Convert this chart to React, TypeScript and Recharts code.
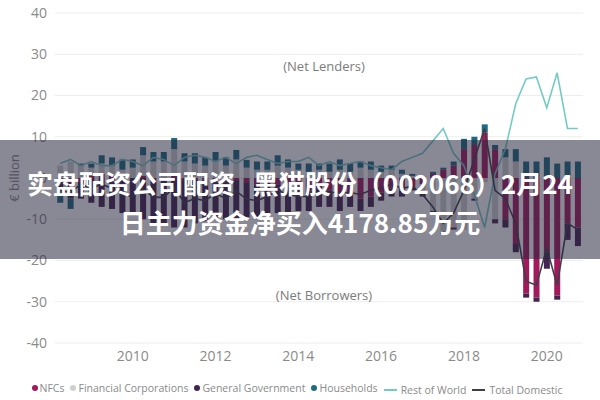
import React from 'react';
import { ComposedChart, Bar, Line, XAxis, YAxis, CartesianGrid } from 'recharts';

const quarters = [
  '2008Q2', '2008Q3', '2008Q4',
  '2009Q1', '2009Q2', '2009Q3', '2009Q4',
  '2010Q1', '2010Q2', '2010Q3', '2010Q4',
  '2011Q1', '2011Q2', '2011Q3', '2011Q4',
  '2012Q1', '2012Q2', '2012Q3', '2012Q4',
  '2013Q1', '2013Q2', '2013Q3', '2013Q4',
  '2014Q1', '2014Q2', '2014Q3', '2014Q4',
  '2015Q1', '2015Q2', '2015Q3', '2015Q4',
  '2016Q1', '2016Q2', '2016Q3', '2016Q4',
  '2017Q1', '2017Q2', '2017Q3', '2017Q4',
  '2018Q1', '2018Q2', '2018Q3', '2018Q4',
  '2019Q1', '2019Q2', '2019Q3', '2019Q4',
  '2020Q1', '2020Q2', '2020Q3', '2020Q4',
];

const nfcs = [
  -1, -2, -1,
  0.5, 1, 0.5, -0.5,
  0, 0.5, -0.5, 0,
  0.5, -0.5, 0, -0.5,
  0, -1, -0.5, -1,
  -1.5, -1, -1.5, -2,
  -2, -3, -2.5, -3,
  -4.5, -4, -5, -4.5,
  -3.5, -2.5, -3, -2,
  -1.5, 1, 2, 3,
  7, 8, 11, 7,
  -10, -16, -28, -29,
  -18, -28.5, -11, -12,
];

const financialCorps = [
  3, 4, 3,
  2, 2.5, 2.5, 2,
  2.5, 5, 4, 4,
  6.5, 4, 3.5, 3,
  4, 3, 4.5, 2.5,
  2, 2, 3, 2.5,
  2, 1.5, 2, 1.5,
  2, 1.5, 2.5, 2,
  1.5, 2, 1, 0.5,
  -2, -8, -13, -12,
  -12.5, -5, -1, -10,
  5, 4, 0, 0,
  0.5, 0, 0.5, 0,
];

const generalGovernment = [
  -2, -3, -4,
  -6, -7, -7.5, -8,
  -9, -10, -10.5, -11,
  -12, -11.5, -11, -10,
  -10, -9, -9.5, -8.5,
  -8, -7.5, -7, -6.5,
  -6, -5, -4.5, -4,
  -3.5, -3, -3, -2.5,
  -2, -2, -1.5, -1,
  -1, -0.5, -0.5, -0.5,
  0, -0.5, 0, -1,
  -2, -2, -1, -1,
  -4, -1, -4, -4.5,
];

const households = [
  -3, -2.5, 0.5,
  1, 2, 2, 2.5,
  2, 2, 2.3, 2.3,
  2.7, 2, 2.5, 2,
  2.3, 2, 2.3, 1.9,
  2, 2, 2.5, 2,
  1.5, 2, 1.5, 2,
  2.5, 2, 1.5, 2,
  1.5, 1, 1, 0.5,
  0.5, 0.5, 0.5, 1,
  2.5, 2, 2, 1,
  2, 3, 4, 4,
  4.5, 3.5, 3.5, 4,
];

const restOfWorld = [
  3.5, 4.5, 3,
  4, 3, 3, 4.5,
  4, 3, 5, 4.5,
  3, 5, 5.5, 5,
  4, 5, 3.5, 5,
  5.5, 4.5, 3.5, 4,
  4, 5, 3, 4,
  3, 3.5, 4, 3,
  2.5, 2, 4, 5,
  6, 9, 12, 6,
  3, -4, -12, 1,
  7, 18, 24, 24.5,
  17, 25.5, 12, 12,
];

const totalDomestic = [
  -3, -3.5, -1.5,
  -2.5, -1.5, -2.5, -4,
  -4.5, -2.5, -4.7, -4.7,
  -2.3, -6, -5, -5.5,
  -3.7, -5, -3.2, -5.1,
  -5.5, -4.5, -3, -4,
  -4.5, -4.5, -3.5, -3.5,
  -3.5, -3.5, -4, -3,
  -2.5, -1.5, -2.5, -2,
  -4, -7, -11, -8.5,
  -3, 4.5, 12, -3,
  -5, -11, -25, -26,
  -17, -26, -11, -12.5,
];

const yTicks = [-40, -30, -20, -10, 0, 10, 20, 30, 40];
const xTicks = ['2010Q1', '2012Q1', '2014Q1', '2016Q1', '2018Q1', '2020Q1'];

const data = quarters.map((q, i) => ({
  q,
  nfcs: nfcs[i],
  fin: financialCorps[i],
  gov: generalGovernment[i],
  hh: households[i],
  row: restOfWorld[i],
  total: totalDomestic[i],
}));

const C_NFC = '#a3195b';
const C_FIN = '#cfcfcf';
const C_GOV = '#43234f';
const C_HH = '#1d6a82';
const C_ROW = '#74cbc6';
const C_TOT = '#3f3f4c';

const legendItems = [
  { label: 'NFCs', color: C_NFC, kind: 'dot' },
  { label: 'Financial Corporations', color: C_FIN, kind: 'dot' },
  { label: 'General Government', color: C_GOV, kind: 'dot' },
  { label: 'Households', color: C_HH, kind: 'dot' },
  { label: 'Rest of World', color: C_ROW, kind: 'line' },
  { label: 'Total Domestic', color: C_TOT, kind: 'line' },
];

export default function App() {
  const font = '"Open Sans", "Noto Sans", sans-serif';
  return (
    <div style={{ position: 'absolute', left: 0, top: 0, width: 600, height: 400, background: '#fff', overflow: 'hidden', fontFamily: font }}>
      <ComposedChart
        width={600}
        height={370}
        data={data}
        stackOffset="sign"
        barCategoryGap="22%"
        margin={{ top: 13, right: 17, bottom: 0, left: 0 }}
      >
        <CartesianGrid vertical={false} stroke="#ededed" />
        <XAxis
          dataKey="q"
          ticks={xTicks}
          tickFormatter={(v: string) => v.slice(0, 4)}
          axisLine={false}
          tickLine={false}
          height={27}
          tick={{ fill: '#8a8a8a', fontSize: 14, fontFamily: font }}
          interval={0}
        />
        <YAxis
          domain={[-40, 40]}
          ticks={yTicks}
          axisLine={false}
          tickLine={false}
          width={55}
          tick={{ fill: '#8a8a8a', fontSize: 14, fontFamily: font }}
          label={{ value: '€ billion', angle: -90, position: 'insideLeft', offset: 14, style: { fill: '#8a8a8a', fontSize: 13, fontFamily: font, textAnchor: 'middle' } }}
        />
        <Bar dataKey="nfcs" stackId="s" fill={C_NFC} isAnimationActive={false} />
        <Bar dataKey="fin" stackId="s" fill={C_FIN} isAnimationActive={false} />
        <Bar dataKey="gov" stackId="s" fill={C_GOV} isAnimationActive={false} />
        <Bar dataKey="hh" stackId="s" fill={C_HH} isAnimationActive={false} />
        <Line dataKey="row" type="linear" stroke={C_ROW} strokeWidth={1.6} dot={false} isAnimationActive={false} />
        <Line dataKey="total" type="linear" stroke={C_TOT} strokeWidth={1.6} dot={false} isAnimationActive={false} />
      </ComposedChart>

      <div style={{ position: 'absolute', left: 224, width: 200, top: 57, textAlign: 'center', fontSize: 13, color: '#7c7c7c' }}>(Net Lenders)</div>
      <div style={{ position: 'absolute', left: 224, width: 200, top: 286, textAlign: 'center', fontSize: 13, color: '#7c7c7c' }}>(Net Borrowers)</div>

      <div style={{ position: 'absolute', left: 0, width: 600, top: 380, textAlign: 'center', fontSize: 10.5, color: '#8a8a8a', whiteSpace: 'nowrap' }}>
        {legendItems.map((it) => (
          <span key={it.label} style={{ marginRight: 6, display: 'inline-flex', alignItems: 'center' }}>
            {it.kind === 'dot' ? (
              <span style={{ display: 'inline-block', width: 6, height: 6, borderRadius: 3, background: it.color, marginRight: 2 }} />
            ) : (
              <span style={{ display: 'inline-block', width: 13, height: 2, background: it.color, marginRight: 4 }} />
            )}
            {it.label}
          </span>
        ))}
      </div>

      <div style={{ position: 'absolute', left: 0, top: 140, width: 600, height: 119, background: 'rgba(40,38,62,0.55)' }}>
        <div style={{ position: 'absolute', left: 0, width: 600, top: 25, textAlign: 'center', color: '#fff', fontSize: 26, fontWeight: 700, fontFamily: '"Noto Sans CJK SC", sans-serif', lineHeight: '36px', whiteSpace: 'pre' }}>
          实盘配资公司配资   黑猫股份（002068）2月24
        </div>
        <div style={{ position: 'absolute', left: 0, width: 600, top: 64, textAlign: 'center', color: '#fff', fontSize: 26, fontWeight: 700, fontFamily: '"Noto Sans CJK SC", sans-serif', lineHeight: '36px' }}>
          日主力资金净买入4178.85万元
        </div>
      </div>
    </div>
  );
}
